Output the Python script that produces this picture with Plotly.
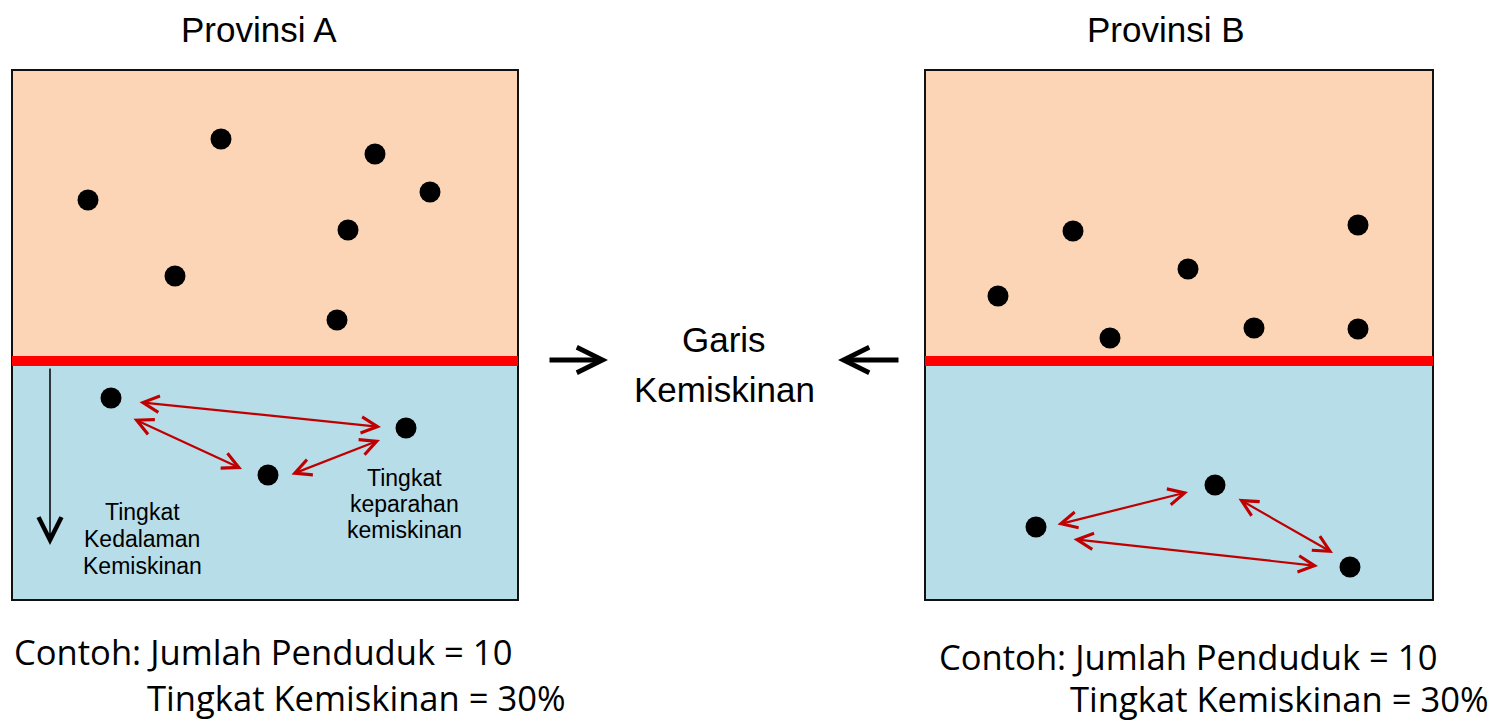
import plotly.graph_objects as go

# ---- data (pixel-space diagram coordinates) ----
titles = ["Provinsi A", "Provinsi B"]
title_x = [259, 1166]

# dots above the poverty line (non-poor) and below (poor)
a_upper_x = [221, 375, 88, 430, 348, 175, 337]
a_upper_y = [139, 154, 200, 192, 230, 276, 320]
a_lower_x = [111, 406, 268]
a_lower_y = [398, 428, 475]

b_upper_x = [1073, 1358, 1188, 998, 1110, 1254, 1358]
b_upper_y = [231, 225, 269, 296, 338, 328, 329]
b_lower_x = [1215, 1036, 1350]
b_lower_y = [485, 527, 567]

# red double arrows: (x_start, y_start, x_end, y_end)
a_arrows = [(138, 402, 381, 427), (132, 418, 242, 469), (290, 475, 380, 440)]
b_arrows = [(1056, 525, 1188, 492), (1237, 498, 1333, 553), (1072, 539, 1318, 566)]

pop_label = "Contoh: Jumlah Penduduk = 10"
rate_label = "Tingkat Kemiskinan = 30%"

# ---- styles ----
PEACH = "#FBD5B5"
BLUE = "#B7DDE8"
RED_LINE = "#FF0000"
ARROW_RED = "#C00000"
NARROW = "Liberation Sans Narrow, Arial Narrow, Liberation Sans, Arial, sans-serif"
BODY = "Open Sans, Noto Sans, sans-serif"

boxes = [(12, 518), (925, 1433)]
TOP, LINE_Y, BOTTOM = 70, 361, 600

fig = go.Figure()

shapes = []
for (x0, x1) in boxes:
    shapes.append(dict(type="rect", xref="x", yref="y", x0=x0, x1=x1, y0=TOP, y1=LINE_Y,
                       fillcolor=PEACH, line=dict(width=0), layer="below"))
    shapes.append(dict(type="rect", xref="x", yref="y", x0=x0, x1=x1, y0=LINE_Y, y1=BOTTOM,
                       fillcolor=BLUE, line=dict(width=0), layer="below"))
    shapes.append(dict(type="rect", xref="x", yref="y", x0=x0, x1=x1, y0=TOP, y1=BOTTOM,
                       fillcolor="rgba(0,0,0,0)", line=dict(color="#111111", width=2), layer="below"))
    shapes.append(dict(type="line", xref="x", yref="y", x0=x0, x1=x1, y0=LINE_Y, y1=LINE_Y,
                       line=dict(color=RED_LINE, width=10), layer="below"))

for xs, ys in [(a_upper_x, a_upper_y), (a_lower_x, a_lower_y),
               (b_upper_x, b_upper_y), (b_lower_x, b_lower_y)]:
    fig.add_trace(go.Scatter(x=xs, y=ys, mode="markers",
                             marker=dict(size=21, color="black"),
                             hoverinfo="skip", showlegend=False))

ann = []
for t, x in zip(titles, title_x):
    ann.append(dict(text=t, x=x, y=29, xref="x", yref="y", showarrow=False,
                    xanchor="center", yanchor="middle",
                    font=dict(family=NARROW, size=35, color="black")))

for (x0, y0, x1, y1) in a_arrows + b_arrows:
    ann.append(dict(x=x1, y=y1, ax=x0, ay=y0, xref="x", yref="y", axref="x", ayref="y",
                    text="", showarrow=True, arrowhead=5, startarrowhead=5,
                    arrowside="end+start", arrowsize=1.45, startarrowsize=1.45,
                    arrowwidth=2.2, arrowcolor=ARROW_RED))

# vertical depth arrow
ann.append(dict(x=50, y=545, ax=50, ay=367, xref="x", yref="y", axref="x", ayref="y",
                text="", showarrow=True, arrowhead=5, arrowsize=3.0, arrowwidth=1.5,
                arrowcolor="black"))
# poverty line pointers
ann.append(dict(x=608, y=360, ax=548, ay=360, xref="x", yref="y", axref="x", ayref="y",
                text="", showarrow=True, arrowhead=5, arrowsize=1.05, arrowwidth=4.8,
                arrowcolor="black"))
ann.append(dict(x=838, y=360, ax=900, ay=360, xref="x", yref="y", axref="x", ayref="y",
                text="", showarrow=True, arrowhead=5, arrowsize=1.05, arrowwidth=4.8,
                arrowcolor="black"))

def lines(texts, x, ys, size):
    for t, y in zip(texts, ys):
        ann.append(dict(text=t, x=x, y=y, xref="x", yref="y", showarrow=False,
                        xanchor="center", yanchor="middle",
                        font=dict(family=NARROW, size=size, color="black")))

lines(["Garis", "Kemiskinan"], 724, [339, 389], 35)
lines(["Tingkat", "Kedalaman", "Kemiskinan"], 142, [512, 539, 566], 23)
lines(["Tingkat", "keparahan", "kemiskinan"], 404, [478, 504, 530], 23)

for (x1, y1, x2, y2) in [(12, 651, 145, 697), (937, 656, 1068, 698)]:
    ann.append(dict(text=pop_label, x=x1, y=y1, xref="x", yref="y", showarrow=False,
                    xanchor="left", yanchor="middle",
                    font=dict(family=BODY, size=34.6, color="black")))
    ann.append(dict(text=rate_label, x=x2, y=y2, xref="x", yref="y", showarrow=False,
                    xanchor="left", yanchor="middle",
                    font=dict(family=BODY, size=34.6, color="black")))

fig.update_layout(
    width=1490, height=720,
    margin=dict(l=0, r=0, t=0, b=0),
    paper_bgcolor="white", plot_bgcolor="white",
    xaxis=dict(range=[0, 1490], visible=False, fixedrange=True),
    yaxis=dict(range=[720, 0], visible=False, fixedrange=True),
    shapes=shapes, annotations=ann, showlegend=False,
)

fig.write_html("out.html", config={"displayModeBar": False},
               post_script="document.body.style.margin='0px';document.body.style.overflow='hidden';")
